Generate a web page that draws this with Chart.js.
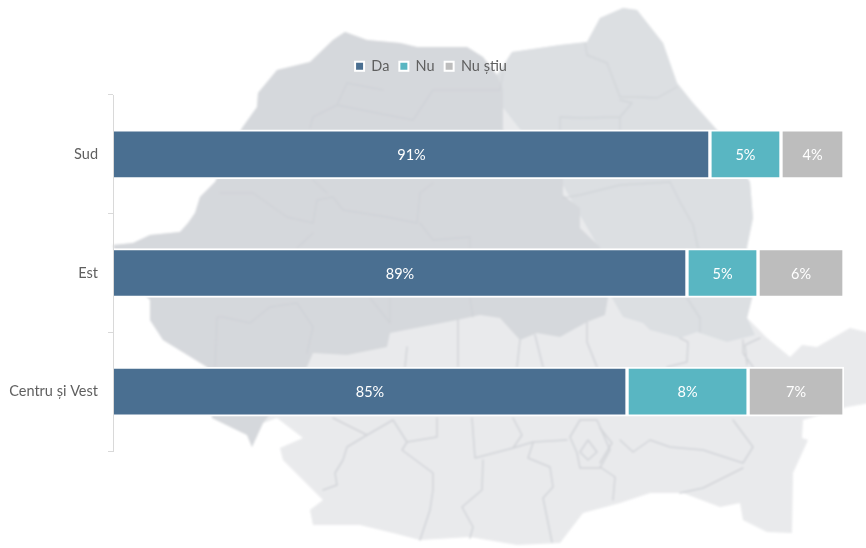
<!DOCTYPE html>
<html lang="ro">
<head>
<meta charset="utf-8">
<title>Da / Nu / Nu știu</title>
<script src="https://cdn.jsdelivr.net/npm/chart.js"></script>
<style>
    html, body { margin: 0; padding: 0; background: #fff; }
    #wrap { position: relative; width: 866px; height: 548px; overflow: hidden; }
    #harta, #grafic { position: absolute; left: 0; top: 0; }
</style>
</head>
<body>
<div id="wrap">
    <!-- harta din fundal -->
    <svg id="harta" width="866" height="548" viewBox="0 0 866 548">
        <defs><filter id="b" x="-5%" y="-5%" width="110%" height="110%"><feGaussianBlur stdDeviation="1.1"/></filter></defs>
        <g filter="url(#b)">
            <path fill="#e9eaec" d="M113 245L133 243L150 235L180 232L188 223L195 213L200 197L215 182L242 128L257 107L258 93L277 70L310 62L333 40L345 32L367 40L400 43L417 47L467 47L483 57L497 75L512 52L560 45L587 42L600 18L623 8L637 10L663 43L677 83L693 103L717 130L750 182L753 218L747 247L752 298L747 318L767 338L790 357L802 345L817 347L850 328L866 332L870 332L870 403L847 407L803 420L802 438L808 440L793 473L792 533L767 532L743 520L740 503L720 507L683 493L650 493L620 503L583 513L560 543L517 545L470 537L420 540L393 533L360 525L313 525L310 510L323 500L303 480L283 460L280 448L303 438L277 418L263 423L252 447L247 435L212 418L207 367L163 340L150 320L150 300L120 270Z"/>
            <path fill="#dcdfe2" d="M497 75L512 52L560 45L587 42L600 18L623 8L637 10L663 43L677 83L693 103L717 130L750 182L753 218L747 247L752 298L747 318L755 335L727 342L697 332L680 338L650 330L643 323L623 317L612 298L600 250L560 180L497 100Z"/>
            <path fill="#d5d8dc" d="M113 245L133 243L150 235L180 232L188 223L195 213L200 197L215 182L242 128L257 107L258 93L277 70L310 62L333 40L345 32L367 40L400 43L417 47L467 47L483 57L497 75L503 90L503 130L563 175L563 195L580 208L580 228L600 247L608 298L605 315L587 322L560 337L537 333L520 340L500 318L480 315L457 320L390 333L387 347L347 355L313 353L307 367L263 423L252 447L247 435L212 418L207 367L163 340L150 320L150 300L120 270Z"/>
            <g fill="none" stroke-linejoin="round" stroke-linecap="round">
                <g stroke="#cbced3" stroke-width="1.4" opacity="0.55">
                    <path d="M347 83L337 105L313 117L310 128M347 83L383 90M337 105L377 113L413 120L433 90L500 90L503 73"/>
                    <path d="M220 193L253 193L287 217L313 223L317 200L333 197L343 210L387 217L417 223L420 193L433 183M313 180L327 193M313 233L297 248M420 223L433 240L470 237L470 248"/>
                    <path d="M217 317L223 317L250 323L270 307L297 303L313 327L307 353M370 298L390 323L390 298M470 298L473 317M217 317L215 367"/>
                    <path d="M563 198L580 195L620 185L670 182L680 202L693 225L698 248M687 298L700 318L700 332M585 43L587 55L607 63L620 97L637 97L657 98L677 87M620 100L632 103L620 117L620 130M560 130L560 117L580 118L620 117"/>
                </g>
                <g stroke="#d2d4d8" stroke-width="1.5">
                    <path d="M458 320L458 367M407 347L405 367M517 367L520 340M543 367L535 335M597 367L587 342L587 322M667 367L687 362L688 342L680 338M747 365L745 345L760 338M743 340L743 353L753 367"/>
                    <path d="M333 418L367 435L393 420L407 442L402 450L433 473L433 490L430 510L420 540M367 435L347 447L343 460L335 473L337 485L323 490M407 442L437 437L437 418"/>
                    <path d="M472 418L475 458L513 448L522 435L513 418M483 460L482 490L462 507L473 527L470 538M533 443L528 458L550 467L553 487L543 498L552 542M513 448L533 442L567 440"/>
                    <path d="M570 437L580 420L597 420L610 450L600 468L580 468L577 453ZM588 440L597 452L588 460L580 452Z"/>
                    <path d="M600 467L615 477L613 500M600 428L612 443L600 463M620 440L633 452L650 440L670 447L703 450L743 463L753 447L733 420M743 468L703 488L680 493"/>
                </g>
            </g>
        </g>
    </svg>
    <canvas id="grafic" width="866" height="548"></canvas>
</div>

<script>
    // ==============================
    // Date
    // ==============================
    var regiuni = ["Sud", "Est", "Centru și Vest"];
    var valoriDa = [90.83, 89.26, 85.16];
    var valoriNu = [4.86, 4.86, 8.28];
    var valoriNuStiu = [4.31, 5.88, 6.56];

    var culoareText = "#5f5f5f";
    var fontGrafic = "Lato, 'Open Sans', sans-serif";

    // mareste spatiul de sub legenda si o muta spre dreapta
    var spatiuLegenda = {
        id: "spatiuLegenda",
        beforeInit: function (chart) {
            var fit = chart.legend.fit;
            chart.legend.fit = function () {
                fit.bind(this)();
                this.height += 11.5;
            };
        },
        afterLayout: function (chart) {
            chart.legend.left += 9;
            chart.legend.right += 9;
        }
    };

    // etichetele albe din bare
    var eticheteBare = {
        id: "eticheteBare",
        afterDatasetsDraw: function (chart) {
            var ctx = chart.ctx;
            var stanga = chart.scales.x.left;
            ctx.save();
            ctx.fillStyle = "#fff";
            ctx.font = "14.5px " + fontGrafic;
            ctx.textAlign = "center";
            ctx.textBaseline = "middle";
            chart.data.datasets.forEach(function (ds, i) {
                chart.getDatasetMeta(i).data.forEach(function (bar, j) {
                    // axa incepe la 50, deci baza barei Da iese din zona graficului
                    var x = (Math.max(bar.base, stanga) + bar.x) / 2;
                    ctx.fillText(Math.round(ds.data[j]) + "%", x, bar.y + 1);
                });
            });
            ctx.restore();
        }
    };

    function setDate(nume, valori, culoare) {
        return {
            label: nume,
            data: valori,
            backgroundColor: culoare,
            borderColor: "#fff",
            borderWidth: 2,
            borderSkipped: false,
            barThickness: 49
        };
    }

    // ==============================
    // Grafic
    // ==============================
    var ctxGrafic = document.getElementById("grafic").getContext("2d");
    var grafic = new Chart(ctxGrafic, {
        type: "bar",
        data: {
            labels: regiuni,
            datasets: [
                setDate("Da", valoriDa, "#4a6f91"),
                setDate("Nu", valoriNu, "#59b6c2"),
                setDate("Nu știu", valoriNuStiu, "#bdbdbd")
            ]
        },
        options: {
            indexAxis: "y",
            responsive: false,
            animation: false,
            layout: { padding: { top: 49, right: 22, bottom: 97, left: 0 } },
            plugins: {
                tooltip: { enabled: false },
                legend: {
                    position: "top",
                    labels: {
                        boxWidth: 9,
                        boxHeight: 9,
                        padding: 10,
                        color: culoareText,
                        font: { family: fontGrafic, size: 14.5 }
                    }
                }
            },
            scales: {
                x: { display: false, stacked: true, min: 50, max: 100 },
                y: {
                    stacked: true,
                    afterFit: function (scale) { scale.width = 113; },
                    border: { color: "#d9d9d9", z: 1 },
                    grid: { offset: true, drawOnChartArea: false, tickLength: 5, color: "#d9d9d9" },
                    ticks: {
                        padding: 10,
                        color: culoareText,
                        font: { family: fontGrafic, size: 14.5 }
                    }
                }
            }
        },
        plugins: [spatiuLegenda, eticheteBare]
    });
</script>
</body>
</html>
